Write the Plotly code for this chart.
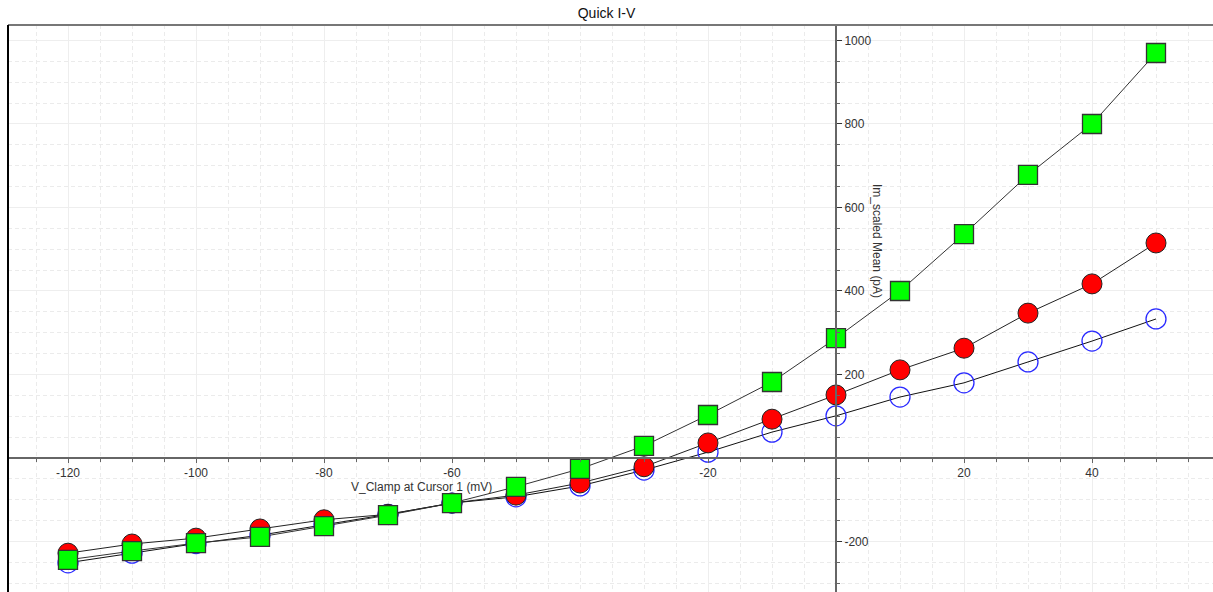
import plotly.graph_objects as go

# Command voltage steps (mV)
v_clamp = [-120, -110, -100, -90, -80, -70, -60, -50, -40, -30, -20, -10, 0, 10, 20, 30, 40, 50]

# Mean currents (pA)
im_blue = [-251, -228, -205, -185, -160, -135, -108, -93, -67, -29, 14, 62, 101, 146, 180, 230, 280, 333]
im_red = [-228, -206, -192, -170, -148, -135, -108, -89, -60, -21, 36, 93, 151, 211, 263, 347, 417, 515]
im_green = [-244, -223, -204, -189, -163, -137, -108, -69, -26, 29, 103, 182, 287, 400, 536, 678, 800, 970]

# tick labels (plain hyphen minus like the original)
x_ticks = [-120, -100, -80, -60, -20, 20, 40]
x_ticklabels = ["-120", "-100", "-80", "-60", "-20", "20", "40"]
y_ticks = [-200, 200, 400, 600, 800, 1000]
y_ticklabels = ["-200", "200", "400", "600", "800", "1000"]

x_range = [-129.375, 58.906]
y_range = [-321.0, 1037.1]

FONT = "Liberation Sans, Arial, sans-serif"

fig = go.Figure()

fig.add_trace(go.Scatter(
    x=v_clamp, y=im_blue, mode="lines+markers",
    line=dict(color="#111111", width=1),
    marker=dict(symbol="circle-open", size=20, color="#2a2aff", line=dict(width=1.3)),
    showlegend=False,
))
fig.add_trace(go.Scatter(
    x=v_clamp, y=im_red, mode="lines+markers",
    line=dict(color="#222222", width=1),
    marker=dict(symbol="circle", size=20, color="#ff0000", line=dict(color="#222222", width=1)),
    showlegend=False,
))
fig.add_trace(go.Scatter(
    x=v_clamp, y=im_green, mode="lines+markers",
    line=dict(color="#333333", width=1),
    marker=dict(symbol="square", size=19, color="#00ff00", line=dict(color="#333333", width=1.3)),
    showlegend=False,
))

# axes cross at the origin
x_pos = (0 - y_range[0]) / (y_range[1] - y_range[0])
y_pos = (0 - x_range[0]) / (x_range[1] - x_range[0])

fig.update_layout(
    width=1213, height=592,
    margin=dict(l=8, r=0, t=25, b=0),
    paper_bgcolor="white", plot_bgcolor="white",
    font=dict(family=FONT, size=12, color="#333333"),
    title=dict(text="Quick I-V", x=0.5, xanchor="center", y=1 - 13 / 592, yanchor="middle",
               font=dict(family=FONT, size=14, color="#111111")),
    xaxis=dict(
        range=x_range, anchor="free", position=x_pos, side="bottom",
        showline=True, linecolor="#666666", linewidth=2,
        tickvals=x_ticks, ticktext=x_ticklabels,
        ticks="outside", ticklen=4, tickcolor="#666666",
        showgrid=True, gridcolor="#eeeeee", gridwidth=1,
        zeroline=False,
        minor=dict(dtick=5, ticks="outside", ticklen=3, tickcolor="#666666",
                   showgrid=True, gridcolor="#ebebeb", griddash="4px,3px"),
        tickfont=dict(color="#333333", size=12),
    ),
    yaxis=dict(
        range=y_range, anchor="free", position=y_pos, side="right",
        showline=True, linecolor="#666666", linewidth=2,
        tickvals=y_ticks, ticktext=y_ticklabels,
        ticks="outside", ticklen=5, tickcolor="#333333",
        showgrid=True, gridcolor="#eeeeee", gridwidth=1,
        zeroline=False,
        minor=dict(dtick=50, ticks="outside", ticklen=3, tickcolor="#666666",
                   showgrid=True, gridcolor="#ebebeb", griddash="4px,3px"),
        tickfont=dict(color="#333333", size=12),
        ticklabelstandoff=0,
    ),
    shapes=[
        dict(type="line", xref="paper", yref="paper", x0=0, x1=1, y0=1, y1=1,
             line=dict(color="#777777", width=2)),
        dict(type="line", xref="paper", yref="paper", x0=0, x1=0, y0=0, y1=1,
             line=dict(color="#000000", width=2)),
    ],
    annotations=[
        dict(text="V_Clamp at Cursor 1 (mV)", xref="paper", yref="paper",
             x=(421 - 8) / 1205, y=(592 - 487) / 567, showarrow=False,
             xanchor="center", yanchor="middle",
             font=dict(family=FONT, size=12, color="#333333")),
        dict(text="Im_scaled Mean (pA)", xref="paper", yref="paper",
             x=(877 - 8) / 1205, y=(592 - 241) / 567, showarrow=False,
             xanchor="center", yanchor="middle", textangle=90,
             font=dict(family=FONT, size=12, color="#333333")),
    ],
)

# drop the default page margin so the figure sits at the window's top-left corner
fig.write_html("out.html", config={"displayModeBar": False},
               post_script="document.body.style.margin='0';")
